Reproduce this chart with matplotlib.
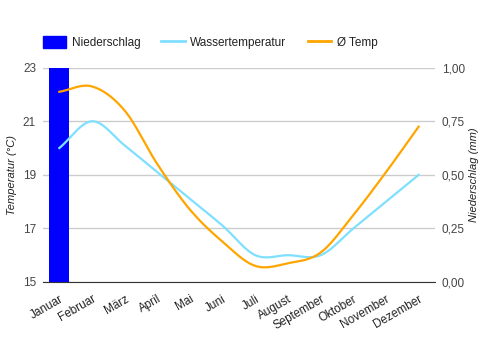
import numpy as np
import matplotlib
matplotlib.use("Agg")
import matplotlib.pyplot as plt
from matplotlib.patches import Patch
from matplotlib.lines import Line2D

plt.rcParams['font.family'] = ['Liberation Sans', 'DejaVu Sans']

# data
monate = ["Januar", "Februar", "März", "April", "Mai", "Juni", "Juli",
          "August", "September", "Oktober", "November", "Dezember"]
niederschlag = [1.0, 0, 0, 0, 0, 0, 0, 0, 0, 0, 0, 0]
wassertemp = [20.0, 21.0, 20.1, 19.1, 18.1, 17.1, 16.0, 16.0, 16.0, 17.0, 18.0, 19.0]
temp = [22.1, 22.3, 21.4, 19.4, 17.7, 16.5, 15.6, 15.7, 16.1, 17.5, 19.1, 20.8]
temp_ticks = [15, 17, 19, 21, 23]
mm_ticks = [0, 0.25, 0.5, 0.75, 1.0]


def smooth(x, y, n=20):
    # catmull-rom curve through the points (like curveType 'function')
    x = np.asarray(x, float)
    y = np.asarray(y, float)
    px = np.concatenate([[2 * x[0] - x[1]], x, [2 * x[-1] - x[-2]]])
    py = np.concatenate([[2 * y[0] - y[1]], y, [2 * y[-1] - y[-2]]])
    xs, ys = [], []
    t = np.linspace(0, 1, n, endpoint=False)
    for i in range(1, len(px) - 2):
        for p, out in ((px, xs), (py, ys)):
            p0, p1, p2, p3 = p[i - 1], p[i], p[i + 1], p[i + 2]
            out.extend(0.5 * ((2 * p1) + (-p0 + p2) * t
                              + (2 * p0 - 5 * p1 + 4 * p2 - p3) * t ** 2
                              + (-p0 + 3 * p1 - 3 * p2 + p3) * t ** 3))
    xs.append(x[-1])
    ys.append(y[-1])
    return np.array(xs), np.array(ys)


c_bar = "#0000ff"
c_wasser = "#7fdfff"
c_temp = "#ffa500"
txt = "#444444"

fig = plt.figure(figsize=(4.81, 3.5), dpi=100)
ax2 = fig.add_axes([43 / 481, 1 - 282 / 350, 392 / 481, 214.3 / 350])
ax = ax2.twinx()
ax.set_zorder(2)
ax.patch.set_visible(False)

x = np.arange(len(monate))

# bars on the mm axis (right)
ax2.bar(x, niederschlag, width=0.61, color=c_bar, zorder=2)
ax2.set_ylim(0, 1.0)
ax2.set_xlim(-0.5, len(monate) - 0.5)
ax2.set_yticks(mm_ticks)
ax2.yaxis.grid(True, color="#cccccc", lw=1)
ax2.set_axisbelow(True)
ax2.yaxis.tick_right()
ax2.yaxis.set_label_position("right")
ax2.set_yticklabels([("%.2f" % v).replace(".", ",") for v in mm_ticks])
ax2.set_ylabel("Niederschlag (mm)", style="italic", fontsize=8, color="#222222", labelpad=3)

# temperature lines on the left axis
sx, sy = smooth(x, wassertemp)
ax.plot(sx, sy, color=c_wasser, lw=1.6)
sx, sy = smooth(x, temp)
ax.plot(sx, sy, color=c_temp, lw=1.6)
ax.set_ylim(15, 23)
ax.set_yticks(temp_ticks)
ax.yaxis.tick_left()
ax.yaxis.set_label_position("left")
ax.set_ylabel("Temperatur (°C)", style="italic", fontsize=8, color="#222222", labelpad=4)

for a in (ax, ax2):
    for s in a.spines.values():
        s.set_visible(False)
    a.tick_params(axis="y", length=0, labelsize=8.5, labelcolor=txt, pad=5)
ax.spines["bottom"].set_visible(True)
ax.spines["bottom"].set_color("#333333")

ax2.set_xticks(x)
ax2.set_xticklabels(monate, rotation=30, ha="right", va="top", rotation_mode="anchor",
                    fontsize=8.5, color="#222222")
ax2.tick_params(axis="x", length=0, pad=8)

handles = [Patch(color=c_bar), Line2D([], [], color=c_wasser, lw=2),
           Line2D([], [], color=c_temp, lw=2)]
fig.legend(handles, ["Niederschlag", "Wassertemperatur", "Ø Temp"], loc="upper left",
           bbox_to_anchor=(32 / 481, 1 - 25 / 350), ncol=3, frameon=False, fontsize=8.5,
           handlelength=2.0, handleheight=1.2, handletextpad=0.45, columnspacing=1.8,
           labelcolor="#222222")

fig.savefig("out.png", dpi=100, facecolor="white")
